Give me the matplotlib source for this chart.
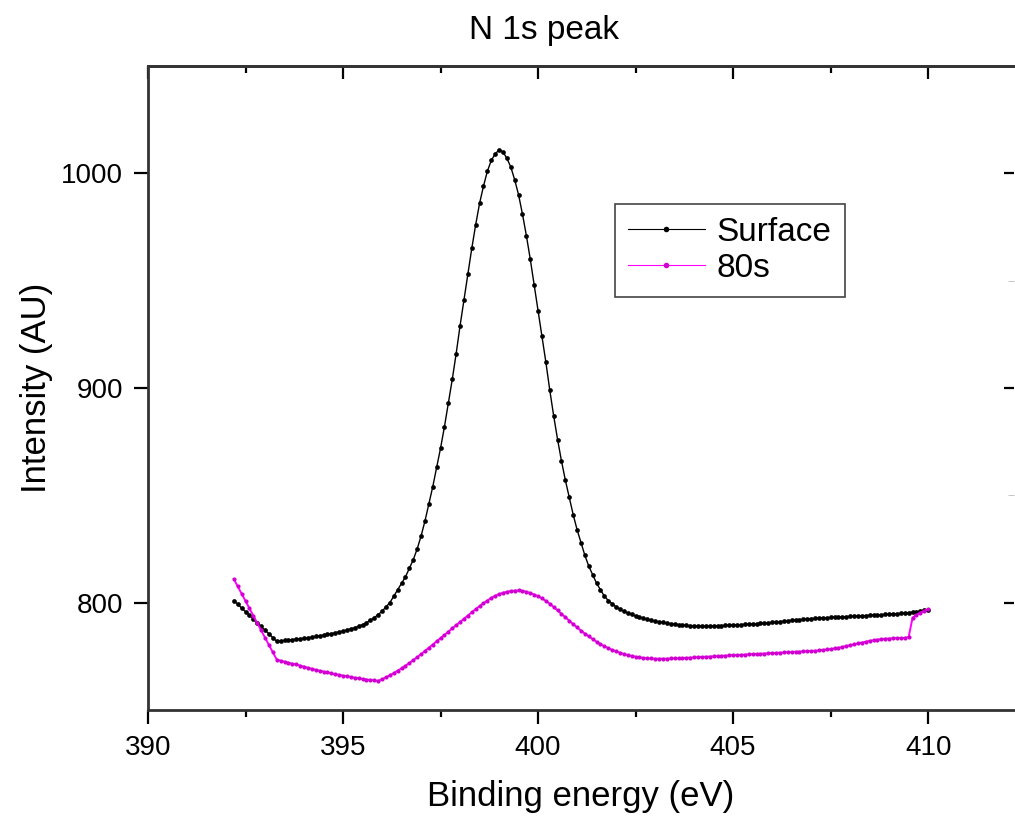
import numpy as np
import matplotlib
matplotlib.use("Agg")
import matplotlib.pyplot as plt
from matplotlib.ticker import MultipleLocator

plt.rcParams["font.family"] = ["Liberation Sans", "DejaVu Sans"]

# binding energy grid, 0.1 eV steps
energy = np.round(np.arange(392.2, 410.05, 0.1), 1)

# N 1s counts, as-received surface
surface = [
    801.0, 799.3, 797.5, 795.8, 794.1, 792.4, 790.6, 788.9,                  # 392.2-392.9
    787.2, 785.5, 783.7, 782.0, 782.2, 782.4, 782.6, 782.8, 783.0, 783.2,    # 393
    783.4, 783.7, 784.0, 784.3, 784.6, 784.9, 785.2, 785.6, 786.0, 786.4,    # 394
    786.8, 787.3, 787.8, 788.4, 789.0, 789.8, 790.7, 791.8, 793.0, 794.4,    # 395
    796.0, 798.0, 800.0, 803.0, 806.0, 809.0, 812.0, 816.0, 820.0, 825.0,    # 396
    831, 838, 846, 854, 863, 872, 882, 893, 904, 916,                        # 397
    929, 941, 953, 965, 976, 986, 994, 1001, 1006, 1009,                     # 398
    1011, 1010, 1007, 1003, 997, 990, 981, 971, 960, 948,                    # 399
    936, 924, 912, 899, 887, 876, 866, 857, 849, 841,                        # 400
    834, 828, 822, 817, 813, 809, 806, 803, 801, 799.5,                      # 401
    798.0, 797.0, 796.0, 795.2, 794.5, 793.8, 793.2, 792.7, 792.2, 791.8,    # 402
    791.4, 791.1, 790.8, 790.5, 790.2, 790.0, 789.8, 789.6, 789.4, 789.3,    # 403
    789.2, 789.1, 789.0, 789.0, 789.0, 789.1, 789.2, 789.3, 789.4, 789.5,    # 404
    789.6, 789.7, 789.8, 789.9, 790.0, 790.1, 790.2, 790.3, 790.5, 790.6,    # 405
    790.8, 791.0, 791.2, 791.4, 791.6, 791.8, 792.0, 792.1, 792.3, 792.4,    # 406
    792.6, 792.7, 792.8, 792.9, 793.0, 793.1, 793.2, 793.3, 793.4, 793.5,    # 407
    793.6, 793.7, 793.8, 793.9, 794.0, 794.1, 794.2, 794.3, 794.4, 794.5,    # 408
    794.7, 794.8, 794.9, 795.0, 795.2, 795.4, 795.6, 795.8, 796.1, 796.5,    # 409
    796.8,                                                                   # 410
]

# N 1s counts after 80 s sputtering
sputter_80s = [
    811.0, 807.6, 804.2, 800.8, 797.4, 793.9, 790.5, 787.1,                  # 392.2-392.9
    783.7, 780.3, 776.9, 773.5, 773.0, 772.5, 772.0, 771.6, 771.2, 770.7,    # 393
    770.2, 769.7, 769.2, 768.7, 768.3, 767.9, 767.5, 767.1, 766.7, 766.4,    # 394
    766.0, 765.7, 765.4, 765.1, 764.8, 764.5, 764.2, 764.0, 763.8, 763.6,    # 395
    764.3, 765.2, 766.2, 767.2, 768.3, 769.4, 770.6, 771.9, 773.2, 774.6,    # 396
    776.0, 777.5, 779.0, 780.5, 782.0, 783.5, 785.0, 786.5, 788.0, 789.5,    # 397
    791.0, 792.5, 794.0, 795.5, 797.0, 798.4, 799.7, 801.0, 802.2, 803.2,    # 398
    804.0, 804.6, 805.1, 805.4, 805.6, 805.7, 805.5, 805.1, 804.5, 803.8,    # 399
    803.0, 802.0, 800.8, 799.5, 798.0, 796.4, 794.8, 793.2, 791.6, 790.0,    # 400
    788.5, 787.0, 785.6, 784.3, 783.0, 781.8, 780.7, 779.7, 778.8, 778.0,    # 401
    777.3, 776.7, 776.1, 775.6, 775.2, 774.8, 774.5, 774.3, 774.1, 774.0,    # 402
    773.9, 773.9, 773.9, 773.9, 774.0, 774.0, 774.1, 774.2, 774.3, 774.4,    # 403
    774.5, 774.6, 774.7, 774.8, 774.9, 775.0, 775.1, 775.2, 775.3, 775.4,    # 404
    775.5, 775.6, 775.7, 775.8, 775.9, 776.0, 776.1, 776.2, 776.3, 776.4,    # 405
    776.5, 776.6, 776.7, 776.8, 776.9, 777.0, 777.1, 777.2, 777.3, 777.4,    # 406
    777.5, 777.6, 777.8, 778.0, 778.2, 778.4, 778.7, 779.0, 779.4, 779.8,    # 407
    780.2, 780.6, 781.0, 781.4, 781.8, 782.2, 782.5, 782.8, 783.0, 783.2,    # 408
    783.3, 783.4, 783.5, 783.5, 783.6, 784.0, 793.0, 794.3, 795.3, 796.2,    # 409
    797.0,                                                                   # 410
]

x_ticks = [390, 395, 400, 405, 410]
y_ticks = [800, 900, 1000]

fig = plt.figure(figsize=(10.15, 8.16), dpi=100)
ax = fig.add_axes([0.1458, 0.1299, 0.8532, 0.7892])

ax.plot(energy, surface, color="black", linewidth=1.0,
        marker="o", markersize=3.4, markerfacecolor="black",
        markeredgewidth=0, label="Surface")
ax.plot(energy, sputter_80s, color="#ff00ff", linewidth=1.4,
        marker="o", markersize=3.0, markerfacecolor="#d000d0",
        markeredgewidth=0, label="80s")

ax.set_xlim(390, 412.2)
ax.set_ylim(750, 1050)
ax.set_xticks(x_ticks)
ax.set_yticks(y_ticks)
ax.xaxis.set_minor_locator(MultipleLocator(2.5))

for side in ("left", "bottom", "top"):
    ax.spines[side].set_linewidth(2.0)
    ax.spines[side].set_color("#333333")
ax.spines["right"].set_visible(False)

ax.tick_params(axis="both", which="major", direction="out", length=10,
               width=1.6, labelsize=20, pad=8)
ax.tick_params(axis="x", which="minor", direction="out", length=5, width=1.6)

# top axis: inward ticks only
top = ax.secondary_xaxis("top")
top.set_xticks(x_ticks)
top.xaxis.set_minor_locator(MultipleLocator(2.5))
top.tick_params(which="major", direction="in", length=9, width=1.6, labeltop=False)
top.tick_params(which="minor", direction="in", length=5, width=1.6)
top.spines["top"].set_linewidth(2.0)
top.spines["top"].set_color("#333333")

# right axis: inward ticks, no spine
right = ax.secondary_yaxis("right")
right.set_yticks(y_ticks)
right.yaxis.set_minor_locator(MultipleLocator(50))
right.tick_params(which="major", direction="in", length=7, width=1.6, labelright=False)
right.tick_params(which="minor", direction="in", length=4, width=0.6, color="#bbbbbb")
right.spines["right"].set_visible(False)

ax.set_xlabel("Binding energy (eV)", fontsize=25, labelpad=14)
ax.set_ylabel("Intensity (AU)", fontsize=25, labelpad=6)
fig.text(0.536, 0.963, "N 1s peak", fontsize=24, ha="center", va="center")

leg = ax.legend(loc="upper left", bbox_to_anchor=(0.539, 0.786),
                fontsize=24, numpoints=1, handlelength=2.3, handletextpad=0.35,
                labelspacing=0.15, borderpad=0.4, borderaxespad=0,
                fancybox=False, framealpha=1, edgecolor="#444444")
leg.get_frame().set_linewidth(1.2)
for h in leg.legend_handles:
    h.set_markersize(4)
    h.set_linewidth(0.8)

fig.savefig("out.png", dpi=100)
